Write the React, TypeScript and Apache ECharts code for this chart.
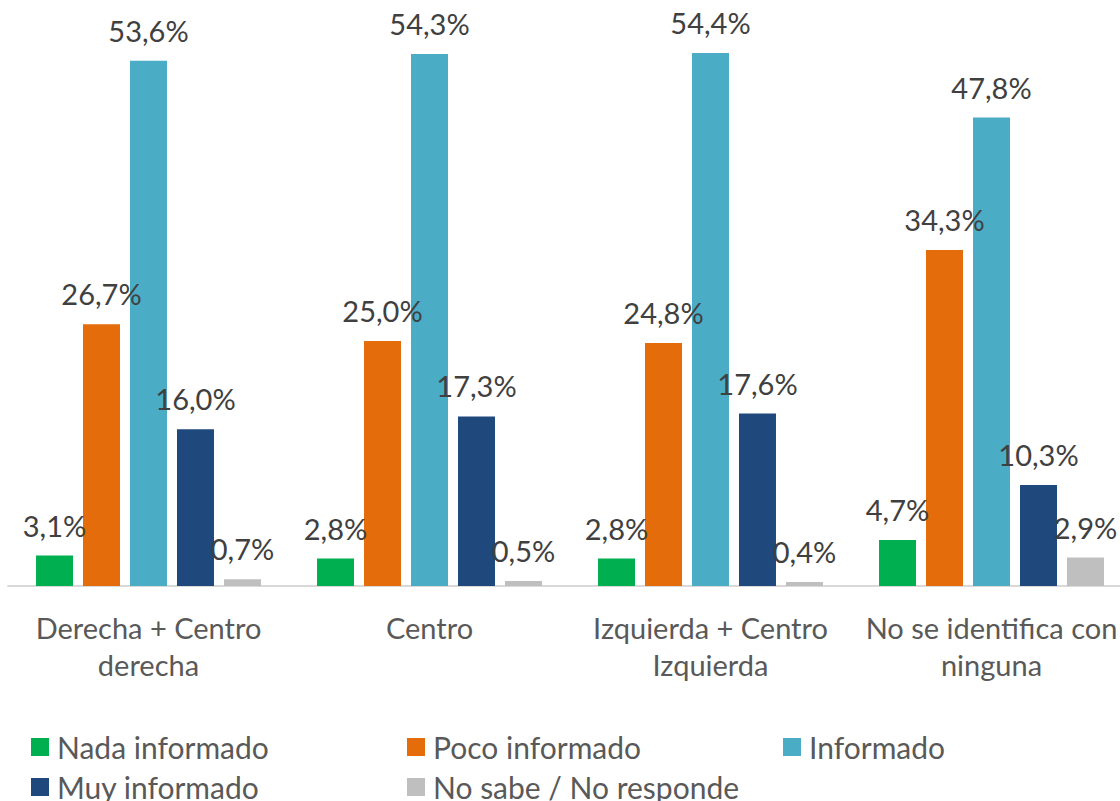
import React, { useEffect, useRef } from "react";
import * as echarts from "echarts";

const categories = [
  "Derecha + Centro\nderecha",
  "Centro",
  "Izquierda + Centro\nIzquierda",
  "No se identifica con\nninguna",
];
const seriesNames = [
  "Nada informado",
  "Poco informado",
  "Informado",
  "Muy informado",
  "No sabe / No responde",
];
const nadaInformado = [3.1, 2.8, 2.8, 4.7];
const pocoInformado = [26.7, 25.0, 24.8, 34.3];
const informado = [53.6, 54.3, 54.4, 47.8];
const muyInformado = [16.0, 17.3, 17.6, 10.3];
const noSabe = [0.7, 0.5, 0.4, 2.9];
const colors = ["#00B050", "#E46C0A", "#4BACC6", "#1F497D", "#BFBFBF"];

const FONT = "Lato";

export default function App() {
  const ref = useRef<HTMLDivElement>(null);
  useEffect(() => {
    document.body.style.margin = "0";
    if (!ref.current) return;
    const chart = echarts.init(ref.current, null, { renderer: "svg" });
    const values = [nadaInformado, pocoInformado, informado, muyInformado, noSabe];
    const legendPos = [
      { left: 31, top: 732 },
      { left: 407, top: 732 },
      { left: 783, top: 732 },
      { left: 31, top: 772 },
      { left: 407, top: 772 },
    ];
    chart.setOption({
      animation: false,
      textStyle: { fontFamily: FONT },
      grid: { left: 8, width: 1124, top: 0, height: 586, outerBoundsMode: "none", containLabel: false },
      legend: seriesNames.map((n, i) => ({
        data: [n],
        left: legendPos[i].left,
        top: legendPos[i].top,
        padding: 0,
        icon: "rect",
        itemWidth: 18,
        itemHeight: 18,
        selectedMode: false,
        textStyle: { fontFamily: FONT, fontSize: 30, color: "#595959", padding: [0, 0, 0, 3] },
      })),
      xAxis: {
        type: "category",
        data: categories,
        axisLine: { lineStyle: { color: "#D9D9D9", width: 2 } },
        axisTick: { show: false },
        axisLabel: {
          interval: 0,
          fontFamily: FONT,
          fontSize: 29,
          color: "#595959",
          lineHeight: 37,
          margin: 23,
        },
      },
      yAxis: { type: "value", show: false, min: 0, max: 59.8, splitLine: { show: false } },
      series: seriesNames.map((n, i) => ({
        name: n,
        type: "bar",
        data: values[i],
        barWidth: 37,
        barGap: "27%",
        itemStyle: { color: colors[i] },
        label: {
          show: true,
          position: "top",
          distance: 16,
          fontFamily: FONT,
          fontSize: 29,
          color: "#404040",
          formatter: (p: any) => p.value.toFixed(1).replace(".", ",") + "%",
        },
      })),
    });
    return () => chart.dispose();
  }, []);
  return <div ref={ref} style={{ width: 1120, height: 801 }} />;
}
